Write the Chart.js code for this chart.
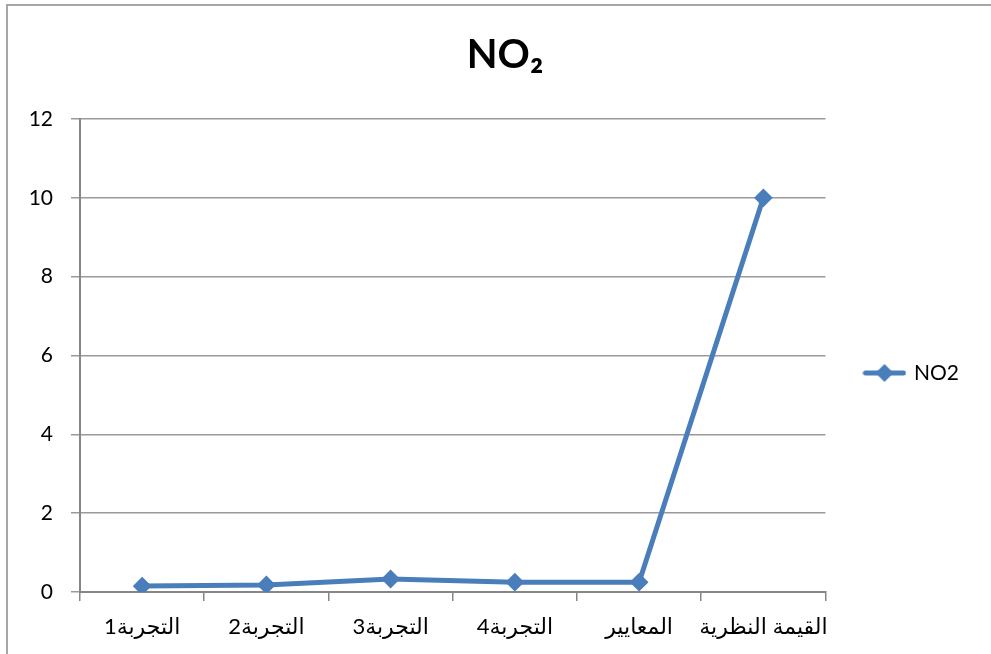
<!DOCTYPE html>
<html>
<head>
<meta charset="utf-8">
<script src="https://cdn.jsdelivr.net/npm/chart.js@4.4.1/dist/chart.umd.min.js"></script>
<style>
  html, body { margin: 0; padding: 0; background: #ffffff; }
  #wrap { position: absolute; left: 0; top: 0; width: 991px; height: 654px; }
</style>
</head>
<body>
<div id="wrap"><canvas id="c" width="991" height="654"></canvas></div>
<script>
const categories = ["التجربة1", "التجربة2", "التجربة3", "التجربة4", "المعايير", "القيمة النظرية"];
const no2Values = [0.15, 0.18, 0.33, 0.25, 0.25, 10];
const seriesName = "NO2";
const chartTitle = "NO₂";
const yMin = 0, yMax = 12, yStep = 2;

const blue = "#4A7EBB";
const FONT = "Lato, 'DejaVu Sans', sans-serif";

// legend marker: line with a diamond
const marker = document.createElement("canvas");
marker.width = 44; marker.height = 20;
(function () {
  const g = marker.getContext("2d");
  g.strokeStyle = blue; g.lineWidth = 5; g.lineCap = "round";
  g.beginPath(); g.moveTo(3, 10); g.lineTo(41, 10); g.stroke();
  g.fillStyle = blue;
  g.beginPath(); g.moveTo(22, 1); g.lineTo(31, 10); g.lineTo(22, 19); g.lineTo(13, 10); g.closePath(); g.fill();
})();

const framePlugin = {
  id: "frame",
  afterLayout(chart) {
    // shift the title box so the title is centred like the reference
    if (chart.titleBlock) { chart.titleBlock.left += 41; }
  },
  beforeDraw(chart) {
    const ctx = chart.ctx;
    ctx.save();
    ctx.fillStyle = "#ffffff";
    ctx.fillRect(0, 0, chart.width, chart.height);
    ctx.strokeStyle = "#A6A6A6";
    ctx.lineWidth = 2;
    ctx.beginPath();
    ctx.moveTo(7, chart.height);
    ctx.lineTo(7, 5);
    ctx.lineTo(chart.width, 5);
    ctx.stroke();
    ctx.restore();
  }
};

new Chart(document.getElementById("c"), {
  type: "line",
  data: {
    labels: categories,
    datasets: [{
      label: seriesName,
      data: no2Values,
      borderColor: blue,
      backgroundColor: blue,
      borderWidth: 5,
      pointStyle: "rectRot",
      pointRadius: 8,
      pointBorderWidth: 2,
      pointBackgroundColor: blue,
      pointBorderColor: blue,
      tension: 0
    }]
  },
  options: {
    responsive: false,
    animation: false,
    devicePixelRatio: 1,
    layout: { padding: { left: 0, right: 22, top: 5, bottom: 0 } },
    plugins: {
      title: {
        display: true,
        text: chartTitle,
        color: "#000000",
        font: { family: FONT, size: 40, weight: "bold" },
        padding: { top: 26, bottom: 40 }
      },
      legend: {
        display: true,
        position: "right",
        fullSize: false,
        title: {
          display: true,
          text: " ",
          font: { family: FONT, size: 10 },
          padding: { top: 0, bottom: 23 }
        },
        labels: {
          usePointStyle: true,
          pointStyle: marker,
          pointStyleWidth: 38,
          color: "#000000",
          font: { family: FONT, size: 21 },
          padding: 40
        }
      },
      tooltip: { enabled: false }
    },
    scales: {
      x: {
        type: "category",
        offset: true,
        afterFit(scale) { scale.paddingLeft = 0; scale.paddingRight = 0; scale.height = 62; },
        grid: {
          offset: true,
          drawOnChartArea: false,
          drawTicks: true,
          tickLength: 9,
          color: "#868686",
          lineWidth: 1.5
        },
        border: { display: true, color: "#868686", width: 2 },
        ticks: {
          color: "#000000",
          font: { family: FONT, size: 22 },
          padding: 13,
          maxRotation: 0,
          autoSkip: false
        }
      },
      y: {
        min: yMin,
        max: yMax,
        afterFit(scale) { scale.width = 80; },
        ticks: {
          stepSize: yStep,
          color: "#000000",
          font: { family: FONT, size: 21 },
          padding: 18
        },
        grid: {
          color: "#9A9A9A",
          lineWidth: 1.5,
          tickLength: 9,
          drawTicks: true
        },
        border: { display: true, color: "#868686", width: 2 }
      }
    }
  },
  plugins: [framePlugin]
});
</script>
</body>
</html>
